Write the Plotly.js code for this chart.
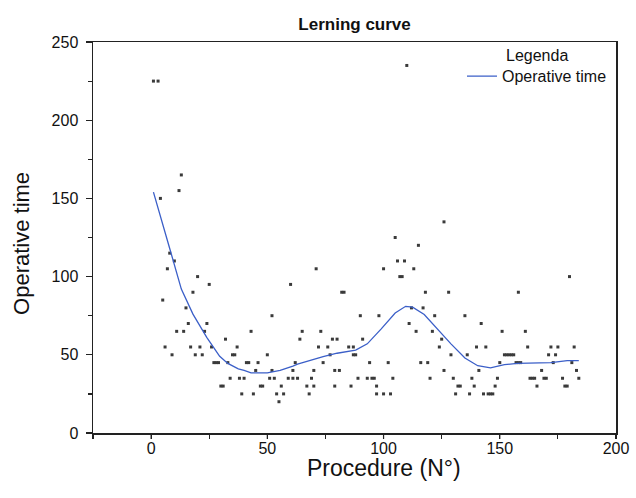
<!DOCTYPE html>
<html>
<head>
<meta charset="utf-8">
<script src="https://cdn.plot.ly/plotly-3.0.1.min.js"></script>
<style>html,body{margin:0;padding:0;background:#fff;}#chart{width:636px;height:498px;}</style>
</head>
<body>
<div id="chart"></div>
<script>
// Procedure number (x) and operative time in minutes (y) for each observed case
const procedure = [1,3,4,5,6,7,8,9,10,11,12,13,14,15,16,17,18,19,20,21,22,23,24,25,26,27,28,29,30,31,32,33,34,35,36,37,38,39,40,41,42,43,44,45,46,47,48,50,51,52,52,53,54,55,56,57,59,60,61,61,62,63,64,65,67,68,69,70,70,71,72,73,74,76,77,78,79,79,80,81,82,83,85,86,87,87,88,89,90,91,93,94,95,96,97,97,98,100,100,102,103,104,105,106,107,108,109,110,111,112,113,114,115,116,117,118,119,120,121,122,124,125,126,126,128,129,130,131,132,133,135,136,137,138,139,140,141,142,143,144,145,146,147,148,149,150,151,152,153,154,155,156,157,158,158,159,161,162,163,164,165,166,168,169,170,171,172,173,174,175,177,178,179,180,181,182,183,184];
const operativeTime = [225,225,150,85,55,105,115,50,110,65,155,165,65,80,70,55,90,50,100,55,50,65,70,95,55,45,45,45,30,30,60,45,35,50,50,55,35,25,35,45,45,65,25,40,45,30,30,50,35,75,40,35,25,20,30,25,35,95,35,40,45,35,60,65,30,25,35,40,30,105,55,65,45,55,50,60,40,30,60,40,90,90,55,30,55,50,50,35,75,60,35,45,35,35,30,25,75,25,105,45,25,35,125,110,100,100,110,235,70,80,105,65,120,45,80,90,45,35,65,75,55,60,135,40,90,50,35,25,30,30,75,50,25,35,30,55,40,70,25,55,25,25,25,30,35,45,65,50,50,50,50,50,45,45,90,45,65,55,35,35,35,30,40,35,35,50,55,45,50,55,35,30,30,100,45,55,40,35];

// Smoothed learning curve
const curveX = [1,4,7,8,13,18,24,29.5,33,37.5,40,43,50,55.5,61,63,74,80,88,93,99,105,109.5,112.5,117.5,123,129,135,140.5,146,152,157.5,172,179,184];
const curveY = [154,138,123,118,92,76,61,49,44.5,41,40,38.5,38.5,40,42.8,44,48.8,51,53,57,66.6,76.7,81,80.5,75.8,66.8,57,48,43,41.7,43.7,44.5,45,46.3,46.3];

const xTicks = [0,50,100,150,200];
const yTicks = [0,50,100,150,200,250];

const FONT = 'Liberation Sans, Arial, Helvetica, sans-serif';

const traces = [
  {
    type: 'scatter', mode: 'markers', x: procedure, y: operativeTime,
    marker: {symbol: 'square', size: 3, color: '#3a3a3a'},
    showlegend: false, hoverinfo: 'x+y'
  },
  {
    type: 'scatter', mode: 'lines', x: curveX, y: curveY,
    name: 'Operative time',
    line: {color: '#3b5fc8', width: 1.3}
  }
];

const axisCommon = {
  showgrid: false, zeroline: false,
  showline: true, linecolor: '#222', linewidth: 1.5, mirror: true,
  ticks: 'outside', ticklen: 6, tickwidth: 1.2, tickcolor: '#222',
  tickfont: {family: FONT, size: 16, color: '#111'}
};

// major x ticks drawn as short pixel-length marks at the tick values (labels stay close to the axis)
const xTickMarks = xTicks.map(v => ({
  type: 'line', xref: 'x', x0: v, x1: v, yref: 'paper', ysizemode: 'pixel', yanchor: 0, y0: 0, y1: -6,
  line: {color: '#222', width: 1.2}
}));

const layout = {
  width: 636, height: 498,
  margin: {l: 93, r: 20, t: 42, b: 65},
  paper_bgcolor: '#fff', plot_bgcolor: '#fff',
  font: {family: FONT, color: '#111'},
  title: {text: '<b>Lerning curve</b>', font: {family: FONT, size: 17, color: '#111'}, x: 0.5575, xanchor: 'center', y: 0.951, yanchor: 'middle'},
  xaxis: Object.assign({}, axisCommon, {
    range: [-25, 200], tickvals: xTicks, ticktext: xTicks.map(String),
    ticks: '',
    minor: {dtick: 25, tick0: 0, ticks: 'outside', ticklen: 4, tickcolor: '#222', tickwidth: 1.2}
  }),
  yaxis: Object.assign({}, axisCommon, {
    range: [0, 250], tickvals: yTicks, ticktext: yTicks.map(String),
    ticklabelstandoff: 4,
    minor: {dtick: 25, tick0: 0, ticks: 'outside', ticklen: 4, tickcolor: '#222', tickwidth: 1.2}
  }),
  shapes: xTickMarks,
  annotations: [
    {text: 'Procedure (N°)', xref: 'x', x: 100, yref: 'paper', y: -0.0895, xanchor: 'center', yanchor: 'middle',
     showarrow: false, font: {family: FONT, size: 23, color: '#111'}},
    {text: 'Operative time', xref: 'paper', x: -0.1358, yref: 'paper', y: 0.486, xanchor: 'center', yanchor: 'middle',
     textangle: -90, showarrow: false, font: {family: FONT, size: 22, color: '#111'}},
    {text: 'Legenda', xref: 'paper', x: (537 - 93) / 523, yref: 'paper', y: (433 - 56) / 391, xanchor: 'center', yanchor: 'middle',
     showarrow: false, font: {family: FONT, size: 16, color: '#111'}}
  ],
  legend: {
    x: (462 - 93) / 523, xanchor: 'left', y: 0.956, yanchor: 'top',
    bgcolor: 'rgba(0,0,0,0)', borderwidth: 0,
    font: {family: FONT, size: 16, color: '#111'}
  },
  showlegend: true
};

Plotly.newPlot('chart', traces, layout, {displayModeBar: false, staticPlot: true});
</script>
</body>
</html>
